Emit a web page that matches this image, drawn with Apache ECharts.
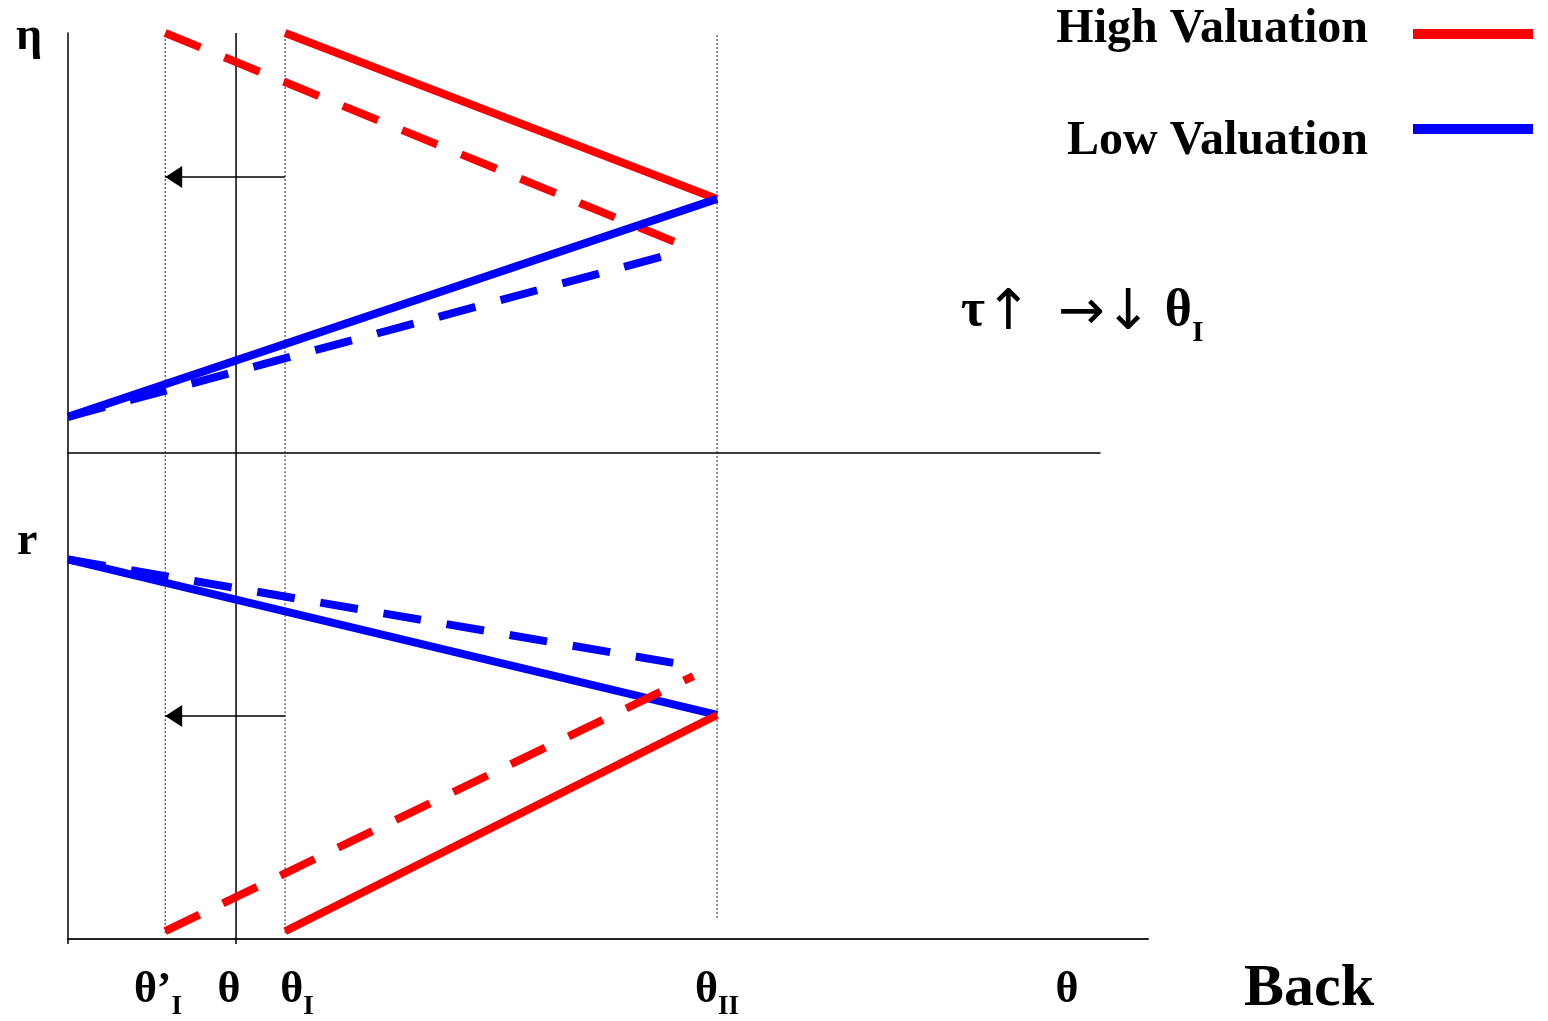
<!DOCTYPE html>
<html>
<head>
<meta charset="utf-8">
<script src="https://cdn.jsdelivr.net/npm/echarts@6/dist/echarts.min.js"></script>
<style>
html,body{margin:0;padding:0;background:#fff;}
#chart{width:1548px;height:1021px;}
</style>
</head>
<body>
<div id="chart"></div>
<script>
// ---- data (x in θ units, y in panel units 0..100) ----
const labelPositions = [8.33, 14.9, 21.2, 60.1, 92.5];
const tickLabels = ['{t|θ’}{s|I}', '{t|θ}', '{t|θ}{s|I}', '{t|θ}{s|II}', '{t|θ}'];

// top panel: η
const etaHighSolid  = [[20.1, 100], [60.1, 60.5]];
const etaHighDashed = [[9.0, 100], [56.9, 49.5]];
const etaLowSolid   = [[0, 8.6], [60.1, 60.5]];
const etaLowDashed  = [[0, 8.6], [56.2, 47.6]];
const etaShift      = [[20.1, 65.7], [9.0, 65.7]];

// bottom panel: r
const rLowSolid   = [[0, 78.1], [60.1, 46.1]];
const rLowDashed  = [[0, 78.1], [57.9, 56.1]];
const rHighSolid  = [[20.1, 1.6], [60.1, 46.1]];
const rHighDashed = [[9.0, 1.6], [57.9, 54.1]];
const rShift      = [[20.1, 45.9], [9.0, 45.9]];

// guide lines
const etaGuidePrimeI = [[9.0, 0], [9.0, 100]];
const etaGuideI      = [[20.1, 0], [20.1, 100]];
const etaGuideII     = [[60.1, 0], [60.1, 99.5]];
const etaTheta       = [[15.56, 0], [15.56, 100]];
const rGuidePrimeI   = [[9.0, 1.2], [9.0, 100]];
const rGuideI        = [[20.1, 1.2], [20.1, 100]];
const rGuideII       = [[60.1, 4.3], [60.1, 100]];
const rTheta         = [[15.56, 0], [15.56, 100]];

const RED = '#ff0000', BLUE = '#0000ff';
const SERIF = '"Liberation Serif","Times New Roman",serif';

const chart = echarts.init(document.getElementById('chart'));

function seg(data, color, dashed, grid, name, z) {
  return {
    type: 'line', name: name, data: data, xAxisIndex: grid, yAxisIndex: grid,
    showSymbol: false, symbol: 'none', animation: false, silent: true, z: z || 3,
    itemStyle: { color: color },
    lineStyle: { color: color, width: 8, type: dashed ? [38, 26] : 'solid', cap: 'butt' }
  };
}
function guide(data, grid, dotted) {
  return {
    type: 'line', data: data, xAxisIndex: grid, yAxisIndex: grid,
    showSymbol: false, symbol: 'none', animation: false, silent: true, z: 1,
    lineStyle: { color: dotted ? '#222' : '#000', width: dotted ? 1 : 1.5, type: dotted ? [2, 2] : 'solid' }
  };
}
function arrow(data, grid) {
  return {
    type: 'line', data: [], xAxisIndex: grid, yAxisIndex: grid, animation: false, silent: true,
    markLine: {
      silent: true, animation: false, symbol: ['none', 'triangle'], symbolSize: [22, 17],
      symbolOffset: [0, [0, 8.5]],
      label: { show: false },
      lineStyle: { color: '#000', width: 1.5, type: 'solid' },
      data: [[{ coord: data[0] }, { coord: data[1] }]]
    }
  };
}
function legendBlock(name, iconCenter, shiftPad) {
  return {
    data: [name], orient: 'vertical', right: 15, top: iconCenter - 23 - (shiftPad[0] + shiftPad[2]) / 2, padding: 0,
    itemWidth: 120, itemHeight: 10, icon: 'rect', align: 'right', selectedMode: false,
    formatter: function (n) { return '{n|' + n + '}'; },
    textStyle: {
      fontFamily: SERIF, fontWeight: 'bold', fontSize: 48, lineHeight: 56, color: '#000', padding: [0, 40, 0, 0],
      rich: { n: { fontFamily: SERIF, fontWeight: 'bold', fontSize: 48, lineHeight: 56, color: '#000', padding: shiftPad } }
    }
  };
}

const option = {
  backgroundColor: '#fff',
  animation: false,
  legend: [
    legendBlock('High Valuation', 33, [0, 0, 8, 0]),
    legendBlock('Low Valuation', 128, [26, 0, 0, 0])
  ],
  grid: [
    { left: 68, top: 33, width: 1032, height: 420 },
    { left: 68, top: 453, width: 1080, height: 488 }
  ],
  xAxis: [
    { gridIndex: 0, type: 'value', min: 0, max: 95.56,
      axisLine: { show: true, lineStyle: { color: '#000', width: 1.5 } },
      axisTick: { show: false }, axisLabel: { show: false }, splitLine: { show: false } },
    { gridIndex: 1, type: 'value', min: 0, max: 100,
      axisLine: { show: true, lineStyle: { color: '#222', width: 2 } },
      axisTick: { show: true, customValues: [0, 15.56], length: 5, lineStyle: { color: '#000', width: 1.5 } },
      splitLine: { show: false },
      axisLabel: {
        show: true, customValues: labelPositions, margin: 30,
        formatter: function (v) {
          let best = 0;
          labelPositions.forEach((t, i) => { if (Math.abs(t - v) < Math.abs(labelPositions[best] - v)) best = i; });
          return tickLabels[best];
        },
        rich: {
          t: { fontFamily: SERIF, fontWeight: 'bold', fontSize: 44, color: '#000', lineHeight: 42, verticalAlign: 'top' },
          s: { fontFamily: SERIF, fontWeight: 'bold', fontSize: 27, color: '#000', lineHeight: 52, verticalAlign: 'bottom' }
        }
      } }
  ],
  yAxis: [
    { gridIndex: 0, type: 'value', min: 0, max: 100,
      axisLine: { show: true, lineStyle: { color: '#000', width: 1.5 } },
      axisTick: { show: false }, axisLabel: { show: false }, splitLine: { show: false } },
    { gridIndex: 1, type: 'value', min: 0, max: 100,
      axisLine: { show: true, lineStyle: { color: '#000', width: 1.5 } },
      axisTick: { show: false }, axisLabel: { show: false }, splitLine: { show: false } }
  ],
  graphic: [
    { type: 'text', left: 16, top: 14, style: { text: 'η', font: 'bold 46px ' + SERIF, fill: '#000' } },
    { type: 'text', left: 17, top: 519, style: { text: 'r', font: 'bold 46px ' + SERIF, fill: '#000' } },
    { type: 'text', left: 961, top: 286, style: {
        text: '{g|τ}{ar|↑}{sp|  }{ar|→↓}{g| θ}{b|I}',
        rich: {
          g: { font: 'bold 52px ' + SERIF, fill: '#000', lineHeight: 52, verticalAlign: 'top' },
          sp: { font: 'bold 52px ' + SERIF, fill: '#000', lineHeight: 52, verticalAlign: 'top' },
          ar: { font: '56px "DejaVu Sans"', fill: '#000', lineHeight: 56, verticalAlign: 'top' },
          b: { font: 'bold 30px ' + SERIF, fill: '#000', lineHeight: 62, verticalAlign: 'bottom' }
        } } },
    { type: 'text', left: 1244, top: 959, style: { text: 'Back', font: 'bold 60px ' + SERIF, fill: '#000' } }
  ],
  series: [
    guide(etaGuidePrimeI, 0, true), guide(etaGuideI, 0, true), guide(etaGuideII, 0, true), guide(etaTheta, 0, false),
    guide(rGuidePrimeI, 1, true), guide(rGuideI, 1, true), guide(rGuideII, 1, true), guide(rTheta, 1, false),
    arrow(etaShift, 0), arrow(rShift, 1),
    seg(etaHighDashed, RED, true, 0, 'High Valuation (shifted)', 3),
    seg(etaHighSolid, RED, false, 0, 'High Valuation', 4),
    seg(etaLowDashed, BLUE, true, 0, 'Low Valuation (shifted)', 5),
    seg(etaLowSolid, BLUE, false, 0, 'Low Valuation', 6),
    seg(rLowDashed, BLUE, true, 1, 'Low Valuation (shifted) r', 3),
    seg(rLowSolid, BLUE, false, 1, 'Low Valuation r', 4),
    seg(rHighDashed, RED, true, 1, 'High Valuation (shifted) r', 5),
    seg(rHighSolid, RED, false, 1, 'High Valuation r', 6)
  ]
};
chart.setOption(option);
</script>
</body>
</html>
